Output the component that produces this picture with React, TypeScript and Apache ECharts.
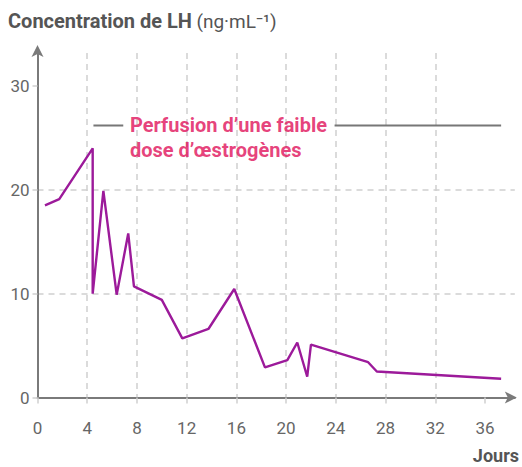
import React, { useEffect, useRef } from "react";
import * as echarts from "echarts";

const days = [0.6, 1.75, 4.44, 4.44, 5.3, 6.37, 7.3, 7.76, 10.0, 11.65, 13.75, 15.83, 18.3, 20.1, 20.9, 21.7, 22.0, 26.6, 27.3, 37.3];
const lh = [18.5, 19.1, 24.0, 10.0, 19.9, 9.9, 15.8, 10.7, 9.4, 5.7, 6.6, 10.45, 2.9, 3.6, 5.3, 2.0, 5.1, 3.4, 2.5, 1.8];
const xTicks = [0, 4, 8, 12, 16, 20, 24, 28, 32, 36];
const yTicks = [0, 10, 20, 30];
const perfusionLevel = 26.2;
const perfusionLeft = [4.5, 6.9];
const perfusionRight = [23.9, 37.3];
const perfusionLabelPos = [7.44, 26.25];
const perfusionText = "Perfusion d’une faible\ndose d’œstrogènes";
const titleBold = "Concentration de LH";
const titleUnit = "(ng·mL⁻¹)";
const xName = "Jours";

const FONT = "Roboto, 'Noto Sans', sans-serif";
const GRID = "#cfcfcf";
const AXIS = "#7a7a7a";
const LABEL = "#666666";

export default function App() {
  const ref = useRef<HTMLDivElement>(null);
  useEffect(() => {
    if (!ref.current) return;
    const chart = echarts.init(ref.current, null, { renderer: "svg" });
    const dash = { type: [6, 5] as any, color: GRID, width: 1.5 };
    chart.setOption({
      animation: false,
      backgroundColor: "#ffffff",
      textStyle: { fontFamily: FONT },
      title: {
        text: `{b|${titleBold}} {n|${titleUnit}}`,
        left: 8,
        top: 11,
        padding: 0,
        textStyle: {
          rich: {
            b: { fontFamily: FONT, fontWeight: "bold", fontSize: 20, color: "#555555" },
            n: { fontFamily: FONT, fontWeight: "normal", fontSize: 19, color: "#555555" },
          },
        },
      },
      graphic: [
        {
          type: "text",
          right: 3,
          top: 446,
          style: { text: xName, fontFamily: FONT, fontWeight: "bold", fontSize: 18, fill: "#555555" },
        },
      ],
      grid: { left: 37.5, right: 7.2, top: 53, bottom: 69.5 },
      xAxis: {
        type: "value",
        min: 0,
        max: 38.4,
        interval: 4,
        axisLine: {
          show: true,
          lineStyle: { color: AXIS, width: 2 },
          symbol: ["none", "arrow"],
          symbolSize: [9, 12],
          symbolOffset: [0, 2],
        },
        axisTick: { show: true, length: 9, lineStyle: dash, customValues: xTicks },
        axisLabel: { customValues: xTicks, color: LABEL, fontSize: 17, margin: 22, fontFamily: FONT },
        splitLine: { show: true, lineStyle: dash, showMinLine: false, showMaxLine: false },
      },
      yAxis: {
        type: "value",
        min: 0,
        max: 33.18,
        interval: 10,
        axisLine: {
          show: true,
          lineStyle: { color: AXIS, width: 2 },
          symbol: ["none", "arrow"],
          symbolSize: [9, 12],
          symbolOffset: [0, 8],
        },
        axisTick: { show: true, length: 5, lineStyle: dash, customValues: yTicks },
        axisLabel: { customValues: yTicks, color: LABEL, fontSize: 17, margin: 8, fontFamily: FONT },
        splitLine: { show: true, lineStyle: dash, showMinLine: false, showMaxLine: false },
      },
      series: [
        {
          type: "line",
          data: days.map((d, i) => [d, lh[i]]),
          symbol: "none",
          lineStyle: { color: "#9c1a9a", width: 2.4 },
          z: 5,
        },
        {
          type: "line",
          data: perfusionLeft.map((d) => [d, perfusionLevel]),
          symbol: "none",
          lineStyle: { color: "#777777", width: 2 },
        },
        {
          type: "line",
          data: perfusionRight.map((d) => [d, perfusionLevel]),
          symbol: "none",
          lineStyle: { color: "#777777", width: 2 },
        },
        {
          type: "scatter",
          data: [perfusionLabelPos],
          symbolSize: 0,
          label: {
            show: true,
            position: "right",
            distance: 0,
            offset: [0, 12.5],
            formatter: perfusionText,
            color: "#df1059",
            fontFamily: FONT,
            fontWeight: "bold",
            fontSize: 20,
            lineHeight: 25,
            align: "left",
          },
        },
      ],
    });
    return () => chart.dispose();
  }, []);
  return <div ref={ref} style={{ width: 522, height: 467, position: "absolute", left: 0, top: 0 }} />;
}
